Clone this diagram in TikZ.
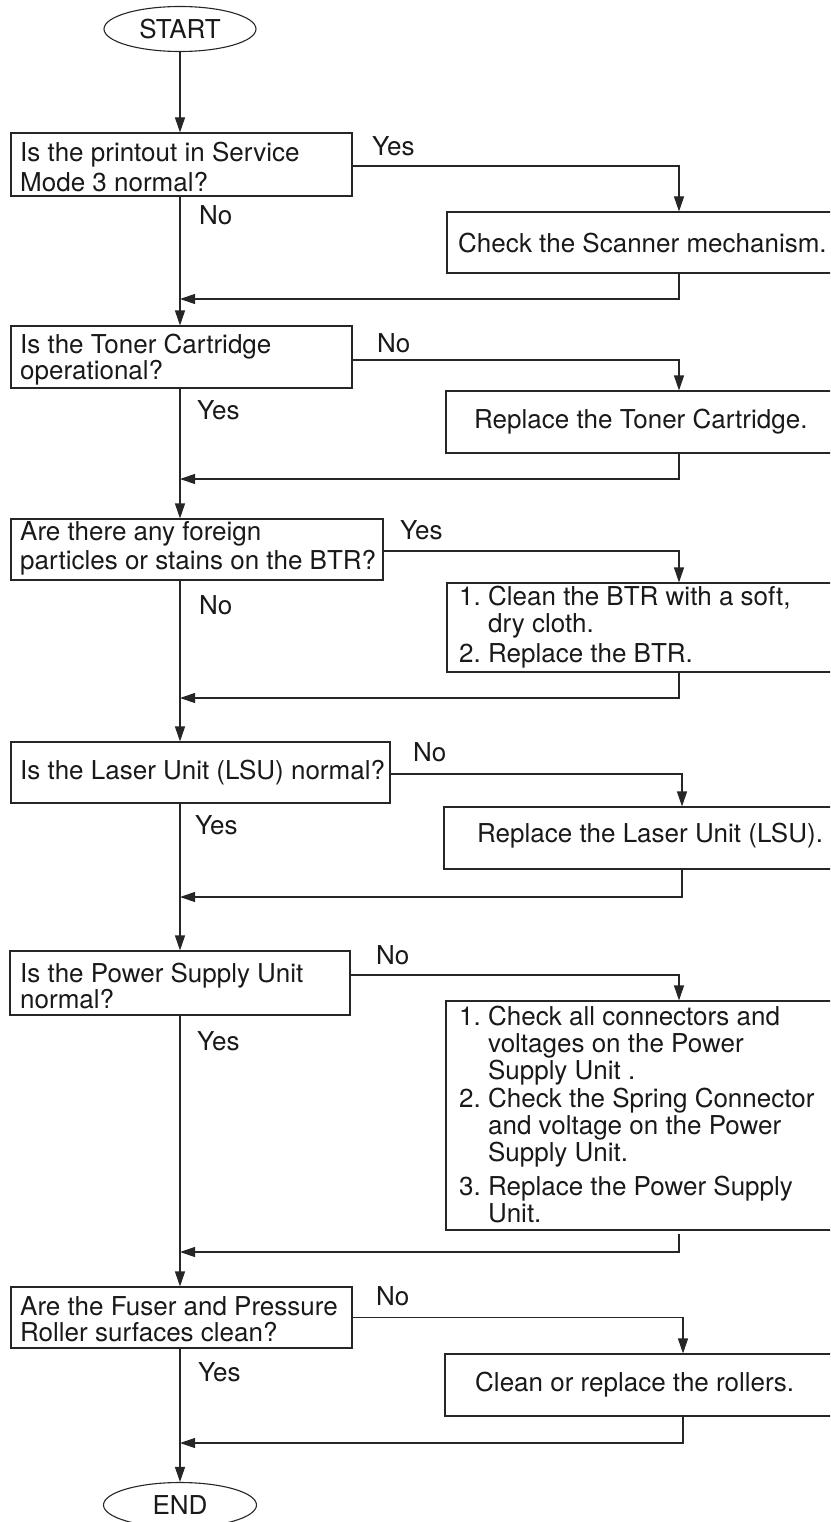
\documentclass[tikz,border=0pt]{standalone}
\usepackage{fontspec}
\setmainfont{TeX Gyre Heros}
\usetikzlibrary{arrows.meta,shapes.geometric}

\begin{document}
\begin{tikzpicture}[x=1pt,y=-1pt,
  every node/.style={font=\fontsize{26}{28}\selectfont, text=black!90},
  flow/.style={line width=1.1pt, draw=black!85},
  arr/.style={flow, -{Triangle[length=15pt,width=10pt]}},
  term/.style={ellipse, draw=black!85, line width=1.1pt, minimum width=152pt,
               minimum height=45pt, inner sep=0pt},
  box/.style={rectangle, draw=black!85, line width=1.1pt, inner sep=0pt},
  txt/.style={anchor=west, align=left, inner sep=0pt},
  lbl/.style={anchor=west, inner sep=0pt},
]
\useasboundingbox (0,0) rectangle (830,1522);
\clip (0,0) rectangle (830,1522);

% terminals
\node[term] (start) at (180,29) {START};
\node[term, minimum width=153pt] (end) at (180,1505) {END};

% question boxes on the main line
\node[box, minimum width=341pt, minimum height=63pt] (q1) at (181.5,164.5) {};
\node[box, minimum width=341pt, minimum height=62pt] (q2) at (181.5,357) {};
\node[box, minimum width=372pt, minimum height=61pt] (q3) at (197,549.5) {};
\node[box, minimum width=379pt, minimum height=61pt] (q4) at (200.5,772.5) {};
\node[box, minimum width=340pt, minimum height=64pt] (q5) at (180,983) {};
\node[box, minimum width=341pt, minimum height=61pt] (q6) at (181.5,1317.5) {};

\node[txt, font=\fontsize{26}{30}\selectfont] (q1t) at (20,167) {Is the printout in Service\\Mode 3 normal?};
\node[txt, font=\fontsize{26}{26}\selectfont] (q2t) at (20,360) {Is the Toner Cartridge\\operational?};
\node[txt, font=\fontsize{26}{29}\selectfont] (q3t) at (20,548) {Are there any foreign\\particles or stains on the BTR?};
\node[txt] (q4t) at (20,773) {Is the Laser Unit (LSU) normal?};
\node[txt, font=\fontsize{26}{18.5}\selectfont] (q5t) at (20,986) {Is the Power Supply Unit\\normal?};
\node[txt, font=\fontsize{26}{26}\selectfont] (q6t) at (20,1319) {Are the Fuser and Pressure\\Roller surfaces clean?};

% action boxes (running off the right edge)
\node[box, minimum width=464pt, minimum height=61pt] (a1) at (679,242.5) {};
\node[box, minimum width=466pt, minimum height=62pt] (a2) at (679,422) {};
\node[box, minimum width=464pt, minimum height=89pt] (a3) at (679,627.5) {};
\node[box, minimum width=476pt, minimum height=62pt] (a4) at (682,838) {};
\node[box, minimum width=466pt, minimum height=229pt] (a5) at (679,1115.5) {};
\node[box, minimum width=476pt, minimum height=62pt] (a6) at (683,1385) {};

\node[txt] (a1t) at (458,243) {Check the Scanner mechanism.};
\node[txt] (a2t) at (474,422) {Replace the Toner Cartridge.};
\node[txt, font=\fontsize{26}{26}\selectfont] (a3t) at (459,628)
  {\begin{tabular}{@{}r@{\ }l@{}}
   1.&Clean the BTR with a soft,\\
     &dry cloth.\\[3pt]
   2.&Replace the BTR.
   \end{tabular}};
\node[txt] (a4t) at (477,836) {Replace the Laser Unit (LSU).};
\node[txt, font=\fontsize{26}{27}\selectfont] (a5t) at (459,1118)
  {\begin{tabular}{@{}r@{\ }l@{}}
   1.&Check all connectors and\\
     &voltages on the Power\\
     &Supply Unit .\\
   2.&Check the Spring Connector\\
     &and voltage on the Power\\
     &Supply Unit.\\[6pt]
   3.&Replace the Power Supply\\
     &Unit.
   \end{tabular}};
\node[txt] (a6t) at (475,1385) {Clean or replace the rollers.};

% branch labels
\node[lbl] (y1) at (372,146) {Yes};
\node[lbl] (n1) at (199,215) {No};
\node[lbl] (n2) at (377,343) {No};
\node[lbl] (y2) at (197,410) {Yes};
\node[lbl] (y3) at (400,530) {Yes};
\node[lbl] (n3) at (199,605) {No};
\node[lbl] (n4) at (413,752) {No};
\node[lbl] (y4) at (195,825) {Yes};
\node[lbl] (n5) at (376,955) {No};
\node[lbl] (y5) at (197,1041) {Yes};
\node[lbl] (n6) at (376,1296) {No};
\node[lbl] (y6) at (198,1372) {Yes};

% junctions where the side branches rejoin the main line
\coordinate (j1) at (180,299);
\coordinate (j2) at (180,479);
\coordinate (j3) at (180,698);
\coordinate (j4) at (180,897);
\coordinate (j5) at (180,1252);
\coordinate (j6) at (180,1443);

% main line
\draw[arr] (start.south) -- (start.south |- q1.north);
\draw[arr] (j1 |- q1.south) -- (j1 |- q2.north);
\draw[arr] (j2 |- q2.south) -- (j2 |- q3.north);
\draw[arr] (j3 |- q3.south) -- (j3 |- q4.north);
\draw[arr] (j4 |- q4.south) -- (j4 |- q5.north);
\draw[arr] (j5 |- q5.south) -- (j5 |- q6.north);
\draw[arr] (j6 |- q6.south) -- (end.north);

% side branches
\draw[arr] ([yshift=-1.5pt]q1.east) -| (a1.north);
\draw[arr] (a1.south) |- (j1);
\draw[arr] ([yshift=-3pt]q2.east) -| (a2.north);
\draw[arr] (a2.south) |- (j2);
\draw[arr] ([yshift=-1.5pt]q3.east) -| (a3.north);
\draw[arr] (a3.south) |- (j3);
\draw[arr] ([yshift=-1.5pt]q4.east) -| (a4.north);
\draw[arr] (a4.south) |- (j4);
\draw[arr] ([yshift=8pt]q5.east) -| (a5.north);
\draw[arr] ([yshift=-3pt]a5.south) |- (j5);
\draw[arr] (q6.east) -| (a6.north);
\draw[arr] (a6.south) |- (j6);
\end{tikzpicture}
\end{document}
